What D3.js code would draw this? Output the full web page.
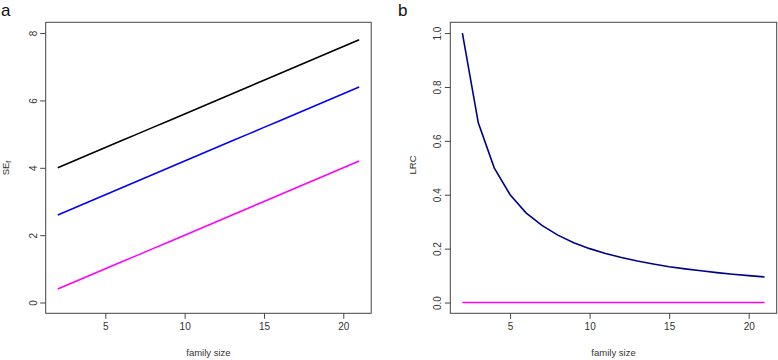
<!DOCTYPE html>
<html>
<head>
<meta charset="utf-8">
<script src="https://cdn.jsdelivr.net/npm/d3@7"></script>
<style>
  body { margin: 0; background: #fff; }
  svg { font-family: "Liberation Sans", Arial, sans-serif; }
</style>
</head>
<body>
<script>
// family size on the x axis, same for both panels
var familySize = [2, 3, 4, 5, 6, 7, 8, 9, 10, 11, 12, 13, 14, 15, 16, 17, 18, 19, 20, 21];

// panel a: SE_f, three lines
var seBlack   = [4.0, 4.2, 4.4, 4.6, 4.8, 5.0, 5.2, 5.4, 5.6, 5.8, 6.0, 6.2, 6.4, 6.6, 6.8, 7.0, 7.2, 7.4, 7.6, 7.8];
var seBlue    = [2.6, 2.8, 3.0, 3.2, 3.4, 3.6, 3.8, 4.0, 4.2, 4.4, 4.6, 4.8, 5.0, 5.2, 5.4, 5.6, 5.8, 6.0, 6.2, 6.4];
var seMagenta = [0.4, 0.6, 0.8, 1.0, 1.2, 1.4, 1.6, 1.8, 2.0, 2.2, 2.4, 2.6, 2.8, 3.0, 3.2, 3.4, 3.6, 3.8, 4.0, 4.2];

// panel b: LRC
var lrcNavy    = [1.0, 0.667, 0.5, 0.4, 0.333, 0.286, 0.25, 0.222, 0.2, 0.182, 0.167, 0.154, 0.143, 0.133, 0.125, 0.118, 0.111, 0.105, 0.1, 0.095];
var lrcMagenta = [0, 0, 0, 0, 0, 0, 0, 0, 0, 0, 0, 0, 0, 0, 0, 0, 0, 0, 0, 0];

var xTicks = [5, 10, 15, 20];
var yTicksA = [0, 2, 4, 6, 8];
var yTicksB = [0, 0.2, 0.4, 0.6, 0.8, 1.0];

var svg = d3.select("body").append("svg")
  .attr("width", 778)
  .attr("height", 360);

// R style padding: 4% on each side of the limits
function pad(lo, hi) { var d = (hi - lo) * 0.04; return [lo - d, hi + d]; }

function panel(opt) {
  var x = d3.scaleLinear().domain(pad(2, 21)).range([opt.left, opt.right]);
  var y = d3.scaleLinear().domain(pad(opt.ylim[0], opt.ylim[1])).range([313.3, 22.3]);
  var g = svg.append("g");

  // lines
  opt.series.forEach(function(s) {
    var line = d3.line()
      .x(function(d, i) { return x(familySize[i]); })
      .y(function(d) { return y(d); });
    g.append("path")
      .datum(s.values)
      .attr("d", line)
      .attr("fill", "none")
      .attr("stroke", s.color)
      .attr("stroke-width", 1.6);
  });

  // box
  g.append("rect")
    .attr("x", opt.left).attr("y", 22.3)
    .attr("width", opt.right - opt.left).attr("height", 313.3 - 22.3)
    .attr("fill", "none").attr("stroke", "#444").attr("stroke-width", 1);

  // x axis
  var xa = g.append("g")
    .attr("transform", "translate(0,313.3)")
    .call(d3.axisBottom(x).tickValues(xTicks).tickSize(5.5).tickPadding(4).tickSizeOuter(0));
  xa.select(".domain").remove();
  xa.selectAll("line").attr("stroke", "#444");
  xa.selectAll("text").attr("font-size", 10).attr("fill", "#333")
    .attr("font-family", "Liberation Sans, Arial, sans-serif");

  // y axis
  var ya = g.append("g")
    .attr("transform", "translate(" + opt.left + ",0)")
    .call(d3.axisLeft(y).tickValues(opt.yTicks).tickSize(5.5).tickFormat(opt.fmt).tickSizeOuter(0));
  ya.select(".domain").remove();
  ya.selectAll("line").attr("stroke", "#444");
  ya.selectAll("text")
    .attr("font-size", 10).attr("fill", "#333")
    .attr("font-family", "Liberation Sans, Arial, sans-serif")
    .attr("x", null).attr("dy", null)
    .attr("text-anchor", "middle")
    .attr("transform", "translate(-12.5,0) rotate(-90)")
    .attr("dy", "0.35em");

  // x title
  svg.append("text")
    .attr("x", (x(1.24) + x(21.76)) / 2).attr("y", 356)
    .attr("text-anchor", "middle").attr("font-size", 9.5).attr("fill", "#333")
    .text("family size");

  // panel letter
  svg.append("text")
    .attr("x", opt.letterX).attr("y", 16)
    .attr("font-size", 17).attr("fill", "#111")
    .text(opt.letter);
}

panel({
  left: 45.7, right: 371.2, ylim: [0, 8], yTicks: yTicksA,
  fmt: d3.format("d"), letter: "a", letterX: 1,
  series: [
    { values: seBlack, color: "#000000" },
    { values: seBlue, color: "#0000ff" },
    { values: seMagenta, color: "#ff00ff" }
  ]
});

panel({
  left: 450.3, right: 776.7, ylim: [0, 1], yTicks: yTicksB,
  fmt: d3.format(".1f"), letter: "b", letterX: 398,
  series: [
    { values: lrcNavy, color: "#00008b" },
    { values: lrcMagenta, color: "#ff00ff" }
  ]
});

// y titles
var seLabel = svg.append("text")
  .attr("transform", "translate(9,168) rotate(-90)")
  .attr("text-anchor", "middle").attr("font-size", 9.5).attr("fill", "#333");
seLabel.append("tspan").text("SE");
seLabel.append("tspan").attr("font-size", 7).attr("dy", 2).text("f");

svg.append("text")
  .attr("transform", "translate(416,165) rotate(-90)")
  .attr("text-anchor", "middle").attr("font-size", 9.5).attr("fill", "#333")
  .text("LRC");
</script>
</body>
</html>
